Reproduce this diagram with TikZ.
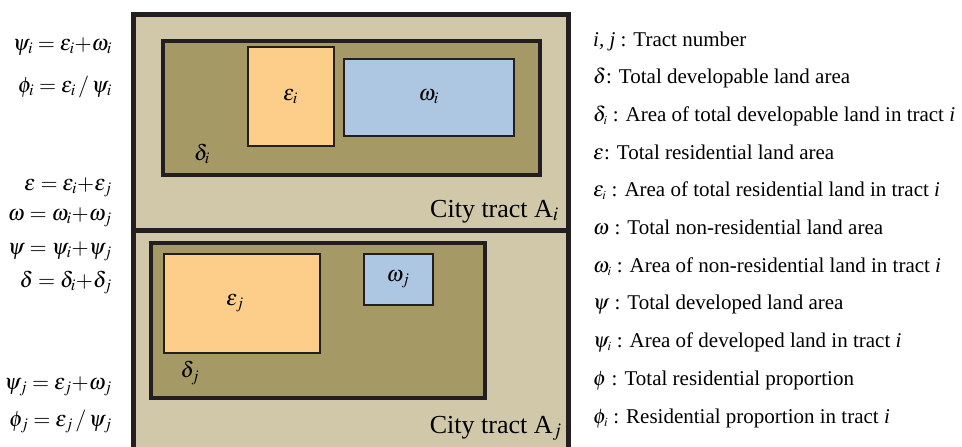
\documentclass[tikz,border=0pt]{standalone}
\usepackage{mathptmx}
\usepackage{fontspec}
\setmainfont{Liberation Serif}
\definecolor{tractfill}{HTML}{D0C8A9}
\definecolor{devfill}{HTML}{A59A66}
\definecolor{resfill}{HTML}{FCCE8A}
\definecolor{nonresfill}{HTML}{ADC7E2}
\definecolor{edge}{HTML}{231F20}
\begin{document}
\begin{tikzpicture}[x=1pt,y=-1pt,
  area/.style={draw=edge,rectangle,inner sep=0pt,outer sep=0pt},
  tract/.style={area,fill=tractfill,line width=5pt},
  devland/.style={area,fill=devfill,line width=4pt},
  resland/.style={area,fill=resfill,line width=2pt},
  nonres/.style={area,fill=nonresfill,line width=2pt},
  sym/.style={inner sep=0pt,font=\fontsize{22}{26}\selectfont},
  tractlabel/.style={inner sep=0pt,anchor=base east,font=\fontsize{26}{30}\selectfont},
  eqn/.style={inner sep=0pt,anchor=base east,font=\fontsize{22}{26}\selectfont},
  legend/.style={inner sep=0pt,anchor=base west,font=\fontsize{21}{24}\selectfont}]
\useasboundingbox (0,0) rectangle (962,447);
\clip (0,0) rectangle (962,447);
\fill[white] (0,0) rectangle (962,447);

% city tract A_j (lower) and A_i (upper)
\node[tract,minimum width=435pt,minimum height=232pt] (tractj) at (351,346.5) {};
\node[tract,minimum width=435pt,minimum height=216pt] (tracti) at (351,122.5) {};

% tract i contents
\node[devland,minimum width=377pt,minimum height=133.5pt] (deltai) at (351.5,107.75) {};
\node[resland,minimum width=86pt,minimum height=99.5pt] (epsi) at (290.5,96.25) {};
\node[nonres,minimum width=169.5pt,minimum height=77pt] (omegai) at (428.75,97) {};
\node[sym] (epsilab) at (epsi.center) {$\varepsilon_i$};
\node[sym] (omegailab) at (omegai.center) {$\omega_i$};
\node[sym] (deltailab) at (202,154) {$\delta_i$};
\node[tractlabel] (namei) at (559,217) {City tract A$_i$};

% tract j contents
\node[devland,minimum width=334pt,minimum height=155pt] (deltaj) at (317.5,320) {};
\node[resland,minimum width=156.5pt,minimum height=99pt] (epsj) at (241.75,303.5) {};
\node[nonres,minimum width=69pt,minimum height=51pt] (omegaj) at (398,279.5) {};
\node[sym] (epsjlab) at (235,303) {$\varepsilon_j$};
\node[sym] (omegajlab) at (omegaj.center) {$\omega_j$};
\node[sym] (deltajlab) at (190,373) {$\delta_j$};
\node[tractlabel] (namej) at (562,433) {City tract A$_j$};

% relations
\node[eqn] (eq1) at (112,50) {$\psi_i = \varepsilon_i{+}\omega_i$};
\node[eqn] (eq2) at (112,92) {$\phi_i = \varepsilon_i \,/\, \psi_i$};
\node[eqn] (eq3) at (112,190) {$\varepsilon = \varepsilon_i{+}\varepsilon_j$};
\node[eqn] (eq4) at (112,220) {$\omega = \omega_i{+}\omega_j$};
\node[eqn] (eq5) at (112,254) {$\psi = \psi_i{+}\psi_j$};
\node[eqn] (eq6) at (112,287) {$\delta = \delta_i{+}\delta_j$};
\node[eqn] (eq7) at (112,389) {$\psi_j = \varepsilon_j{+}\omega_j$};
\node[eqn] (eq8) at (112,426) {$\phi_j = \varepsilon_j \,/\, \psi_j$};

% legend
\node[legend] (l1) at (593,46) {\textit{i, j} : Tract number};
\node[legend] (l2) at (593,83.7) {$\delta$: Total developable land area};
\node[legend] (l3) at (593,121.4) {$\delta_{\scriptscriptstyle i}$ : Area of total developable land in tract \textit{i}};
\node[legend] (l4) at (593,159.1) {$\varepsilon$: Total residential land area};
\node[legend] (l5) at (593,196.8) {$\varepsilon_{\scriptscriptstyle i}$ : Area of total residential land in tract \textit{i}};
\node[legend] (l6) at (593,234.5) {$\omega$ : Total non-residential land area};
\node[legend] (l7) at (593,272.2) {$\omega_{\scriptscriptstyle i}$ : Area of non-residential land in tract \textit{i}};
\node[legend] (l8) at (593,309.9) {$\psi$ : Total developed land area};
\node[legend] (l9) at (593,347.6) {$\psi_{\scriptscriptstyle i}$ : Area of developed land in tract \textit{i}};
\node[legend] (l10) at (593,385.3) {$\phi$ : Total residential proportion};
\node[legend] (l11) at (593,423) {$\phi_{\scriptscriptstyle i}$ : Residential proportion in tract \textit{i}};
\end{tikzpicture}
\end{document}
